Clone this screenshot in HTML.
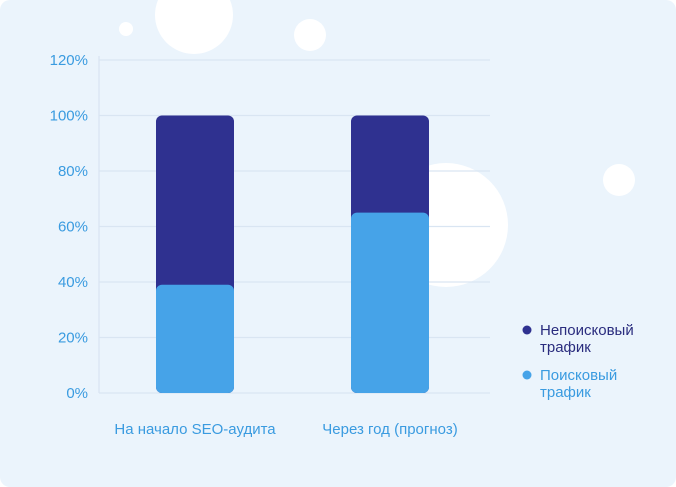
<!DOCTYPE html>
<html><head><meta charset="utf-8"><style>
body{margin:0;background:#fff;}
#card{position:absolute;left:0;top:0;width:676px;height:487px;background:#ebf4fc;border-radius:10px;overflow:hidden;font-family:"Liberation Sans",sans-serif;}
svg text{font-family:"Liberation Sans",sans-serif;}
</style></head><body>
<div id="card">
<svg id="chart" width="676" height="487">
  <g fill="#fff">
    <circle cx="194" cy="15" r="39"/>
    <circle cx="126" cy="29" r="7"/>
    <circle cx="310" cy="35" r="16"/>
    <circle cx="619" cy="180" r="16"/>
    <circle cx="446" cy="225" r="62"/>
  </g>
  <g id="grid"></g>
  <g id="bars"></g>
  <g id="xlabels"></g>
  <g>
    <g>
      <circle cx="527" cy="330" r="4.5" fill="#2f3190"/>
      <text x="540" y="335" font-size="15" fill="#2a2c7e">Непоисковый</text>
      <text x="540" y="352" font-size="15" fill="#2a2c7e">трафик</text>
    </g>
    <g>
      <circle cx="527" cy="375" r="4.5" fill="#46a3e8"/>
      <text x="540" y="380" font-size="15" fill="#3a9be0">Поисковый</text>
      <text x="540" y="397" font-size="15" fill="#3a9be0">трафик</text>
    </g>
  </g>
</svg>
</div>
<script>
const categories = ["На начало SEO-аудита", "Через год (прогноз)"];
const searchValues = [39, 65];
const nonSearchValues = [61, 35];
const yTicks = [0, 20, 40, 60, 80, 100, 120];
const tickLabels = ["0%", "20%", "40%", "60%", "80%", "100%", "120%"];

const NS = "http://www.w3.org/2000/svg";
const y0 = 393, yTop = 60, maxV = 120;
function yScale(v){ return y0 - (v / maxV) * (y0 - yTop); }
const plotLeft = 99, plotRight = 490, barW = 78;
function xCenter(i){ return 195 + i * 195; }
function mk(tag, attrs, parent){ const e = document.createElementNS(NS, tag); for (const k in attrs) e.setAttribute(k, attrs[k]); parent.appendChild(e); return e; }

const grid = document.getElementById("grid");
yTicks.forEach((t, i) => {
  const y = yScale(t);
  const l = mk("line", {x1: plotLeft, x2: plotRight, y1: y, y2: y, stroke: "#d9e5f2", "stroke-width": 1.3}, grid);
  
  
  const tx = mk("text", {x: 88, y: y + 5, "text-anchor": "end", "font-size": 15, fill: "#3a9be0"}, grid);
  tx.textContent = tickLabels[i];
  
  
});
const ax = mk("line", {x1: plotLeft, x2: plotLeft, y1: 56, y2: y0, stroke: "#d9e5f2", "stroke-width": 1.3}, grid);



const bars = document.getElementById("bars");
const xl = document.getElementById("xlabels");
categories.forEach((c, i) => {
  const x = xCenter(i) - barW / 2;
  const total = searchValues[i] + nonSearchValues[i];
  const d = mk("rect", {x: x, y: yScale(total), width: barW, height: y0 - yScale(total), rx: 6, fill: "#2f3190"}, bars);
  
  
  const s = mk("rect", {x: x, y: yScale(searchValues[i]), width: barW, height: y0 - yScale(searchValues[i]), rx: 6, fill: "#46a3e8"}, bars);
  
  
  const t = mk("text", {x: xCenter(i), y: 434, "text-anchor": "middle", "font-size": 15, fill: "#3a9be0"}, xl);
  t.textContent = c;
  
  
});
</script>
</body></html>
